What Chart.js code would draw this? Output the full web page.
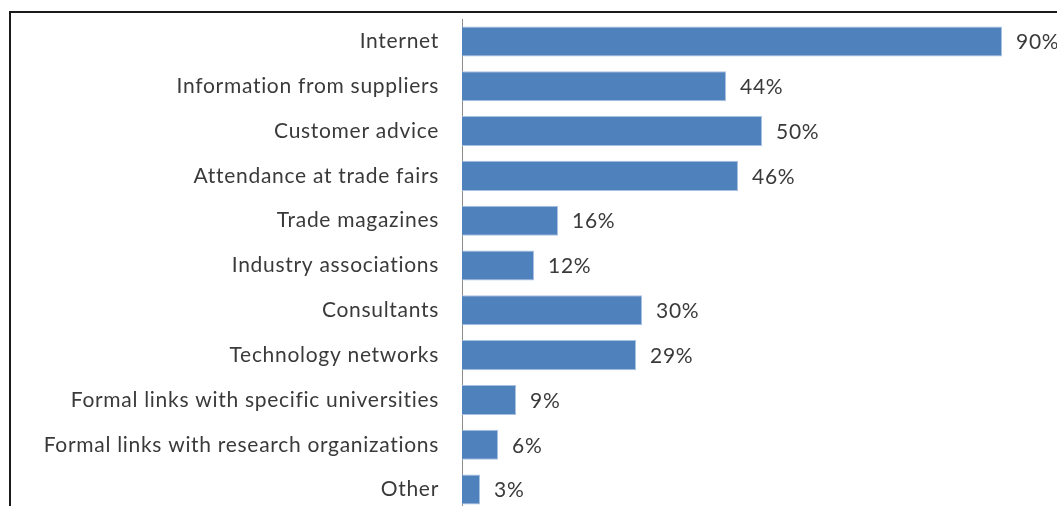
<!DOCTYPE html>
<html>
<head>
<meta charset="utf-8">
<script src="https://cdn.jsdelivr.net/npm/chart.js@4"></script>
<style>
  html, body { margin: 0; padding: 0; background: #fff; overflow: hidden; }
  #wrap { position: relative; width: 1057px; height: 506px; overflow: hidden; }
  #frame { position: absolute; left: 9px; top: 11px; width: 1200px; height: 600px;
           border-left: 2px solid #1a1a1a; border-top: 2px solid #1a1a1a; }
  #box { position: absolute; left: 0; top: 0; width: 1062px; height: 512px; }
</style>
</head>
<body>
<div id="wrap">
  <div id="frame"></div>
  <div id="box"><canvas id="myChart"></canvas></div>
</div>
<script>
const categories = [
  'Internet',
  'Information from suppliers',
  'Customer advice',
  'Attendance at trade fairs',
  'Trade magazines',
  'Industry associations',
  'Consultants',
  'Technology networks',
  'Formal links with specific universities',
  'Formal links with research organizations',
  'Other'
];
const shares = [90, 44, 50, 46, 16, 12, 30, 29, 9, 6, 3];

const textColor = '#3a3a3a';
const fontFamily = 'Lato, "Open Sans", sans-serif';
const spacing = '0.7px';

// slightly wider letters, like the original Calibri text
const letterSpacing = {
  id: 'letterSpacing',
  beforeDraw(chart) { chart.ctx.letterSpacing = spacing; },
  afterDraw(chart) { chart.ctx.letterSpacing = '0px'; }
};

// value labels at the end of each bar
const valueLabels = {
  id: 'valueLabels',
  afterDatasetsDraw(chart) {
    const ctx = chart.ctx;
    const meta = chart.getDatasetMeta(0);
    ctx.save();
    ctx.letterSpacing = spacing;
    ctx.fillStyle = textColor;
    ctx.font = '21px ' + fontFamily;
    ctx.textAlign = 'left';
    ctx.textBaseline = 'middle';
    meta.data.forEach((bar, i) => {
      ctx.fillText(shares[i] + '%', bar.x + 14, bar.y + 1);
    });
    ctx.restore();
  }
};

const data = {
  labels: categories,
  datasets: [{
    data: shares,
    backgroundColor: '#4f81bd',
    borderColor: '#a9c1e0',
    borderWidth: 1,
    categoryPercentage: 1,
    barPercentage: 0.67
  }]
};

const config = {
  type: 'bar',
  data: data,
  options: {
    indexAxis: 'y',
    responsive: true,
    maintainAspectRatio: false,
    animation: false,
    layout: { padding: { top: 19, left: 0, right: 0, bottom: 0 } },
    plugins: { legend: { display: false }, tooltip: { enabled: false } },
    scales: {
      x: { display: false, min: 0, max: 100 },
      y: {
        grid: { display: false, drawTicks: false },
        border: { display: true, color: '#8c8c8c', width: 1 },
        ticks: {
          color: textColor,
          padding: 23,
          font: { family: fontFamily, size: 21 }
        },
        afterFit(scale) {
          scale.width = 462;
          scale.paddingTop = 0;
          scale.paddingBottom = 0;
        }
      }
    }
  },
  plugins: [letterSpacing, valueLabels]
};

const myChart = new Chart(document.getElementById('myChart'), config);
</script>
</body>
</html>
